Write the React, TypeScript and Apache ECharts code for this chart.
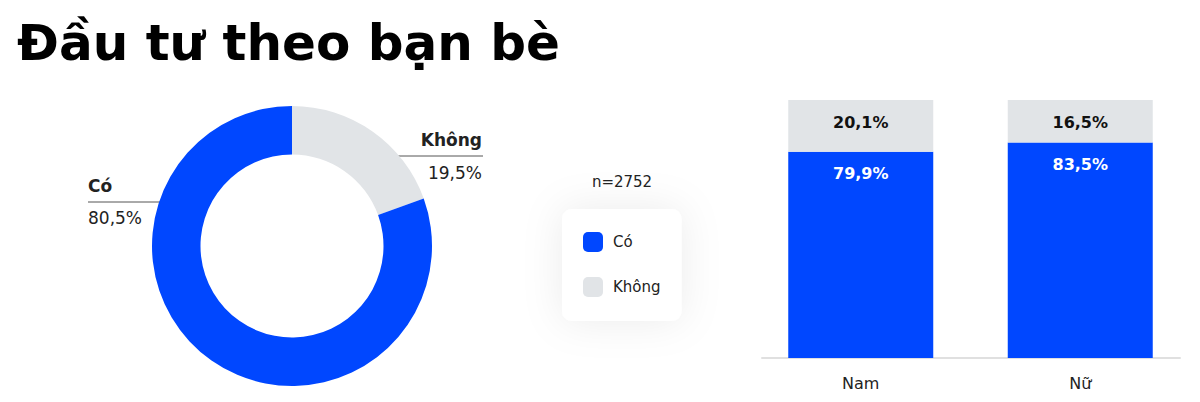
import React, { useEffect, useRef } from 'react';
import * as echarts from 'echarts';

// dữ liệu
const answers = ['Có', 'Không'];
const totalShare = [80.5, 19.5];
const sampleSize = 2752;
const genders = ['Nam', 'Nữ'];
const yesByGender = [79.9, 83.5];
const noByGender = [20.1, 16.5];

const BLUE = '#0047FF';
const GRAY = '#E1E4E7';
const FONT = '"DejaVu Sans", Inter, sans-serif';

const pct = (v: number) => v.toFixed(1).replace('.', ',') + '%';

const App: React.FC = () => {
  const chartRef = useRef<HTMLDivElement>(null);

  useEffect(() => {
    if (!chartRef.current) return;
    const chart = echarts.init(chartRef.current, undefined, { renderer: 'svg' });

    const option: echarts.EChartsOption = {
      animation: false,
      textStyle: { fontFamily: FONT },
      title: {
        text: 'Đầu tư theo bạn bè',
        left: 17,
        top: 18,
        padding: 0,
        textStyle: { fontSize: 50, fontWeight: 700, color: '#000', fontFamily: FONT }
      },
      legend: {
        orient: 'vertical',
        left: 562,
        top: 209,
        data: answers,
        padding: [23, 21, 24, 21],
        itemWidth: 20,
        itemHeight: 20,
        itemGap: 25,
        icon: 'roundRect',
        backgroundColor: '#fff',
        borderRadius: 10,
        shadowBlur: 40,
        shadowColor: 'rgba(0,0,0,0.08)',
        textStyle: { fontSize: 15, color: '#222', padding: [0, 0, 0, 5], fontFamily: FONT }
      },
      grid: [
        { left: 751, width: 439, top: 100, bottom: 44 },
        { left: 762, width: 418, top: 100, bottom: 44 }
      ],
      xAxis: [
        {
          type: 'category',
          gridIndex: 0,
          data: genders,
          axisLine: { show: false },
          axisTick: { show: false },
          axisLabel: { fontSize: 16, color: '#222', margin: 17, fontFamily: FONT }
        },
        {
          type: 'category',
          gridIndex: 1,
          data: [''],
          axisLine: { show: true, lineStyle: { color: '#E0E0E0', width: 2 } },
          axisTick: { show: false },
          axisLabel: { show: false }
        }
      ],
      yAxis: [
        { type: 'value', gridIndex: 0, min: 0, max: 100, show: false },
        { type: 'value', gridIndex: 1, min: 0, max: 100, show: false }
      ],
      series: [
        {
          type: 'pie',
          center: [292, 246],
          radius: [91.5, 140],
          startAngle: 90,
          clockwise: true,
          label: { show: false },
          labelLine: { show: false },
          emphasis: { disabled: true },
          data: [
            { name: answers[1], value: totalShare[1], itemStyle: { color: GRAY } },
            { name: answers[0], value: totalShare[0], itemStyle: { color: BLUE } }
          ]
        },
        {
          name: answers[0],
          type: 'bar',
          stack: 'g',
          xAxisIndex: 0,
          yAxisIndex: 0,
          barWidth: 145,
          data: yesByGender,
          itemStyle: { color: BLUE },
          label: {
            show: true,
            position: 'insideTop',
            distance: 14,
            formatter: (p: any) => pct(p.value),
            color: '#fff',
            fontSize: 16,
            fontWeight: 700,
            fontFamily: FONT
          }
        },
        {
          name: answers[1],
          type: 'bar',
          stack: 'g',
          xAxisIndex: 0,
          yAxisIndex: 0,
          barWidth: 145,
          data: noByGender,
          itemStyle: { color: GRAY },
          label: {
            show: true,
            position: 'insideTop',
            distance: 14,
            formatter: (p: any) => pct(p.value),
            color: '#111',
            fontSize: 16,
            fontWeight: 700,
            fontFamily: FONT
          }
        }
      ],
      graphic: [
        {
          type: 'text',
          x: 622,
          y: 182,
          style: { text: 'n=' + sampleSize, fontSize: 15, fill: '#222', textAlign: 'center', textVerticalAlign: 'middle', fontFamily: FONT }
        },
        // nhãn "Không"
        {
          type: 'text',
          x: 482,
          y: 140,
          style: { text: answers[1], fontSize: 17, fontWeight: 700, fill: '#222', textAlign: 'right', textVerticalAlign: 'middle', fontFamily: FONT }
        },
        { type: 'line', shape: { x1: 371, y1: 156, x2: 483, y2: 156 }, style: { stroke: '#555', lineWidth: 1 } },
        {
          type: 'text',
          x: 482,
          y: 173,
          style: { text: pct(totalShare[1]), fontSize: 17, fill: '#222', textAlign: 'right', textVerticalAlign: 'middle', fontFamily: FONT }
        },
        // nhãn "Có"
        {
          type: 'text',
          x: 88,
          y: 186,
          style: { text: answers[0], fontSize: 17, fontWeight: 700, fill: '#222', textAlign: 'left', textVerticalAlign: 'middle', fontFamily: FONT }
        },
        { type: 'line', shape: { x1: 88, y1: 202, x2: 166, y2: 202 }, style: { stroke: '#555', lineWidth: 1 } },
        {
          type: 'text',
          x: 88,
          y: 218,
          style: { text: pct(totalShare[0]), fontSize: 17, fill: '#222', textAlign: 'left', textVerticalAlign: 'middle', fontFamily: FONT }
        }
      ]
    };

    chart.setOption(option);
    return () => chart.dispose();
  }, []);

  return (
    <div
      ref={chartRef}
      style={{ position: 'fixed', left: 0, top: 0, width: 1200, height: 402, background: '#fff' }}
    />
  );
};

export default App;
